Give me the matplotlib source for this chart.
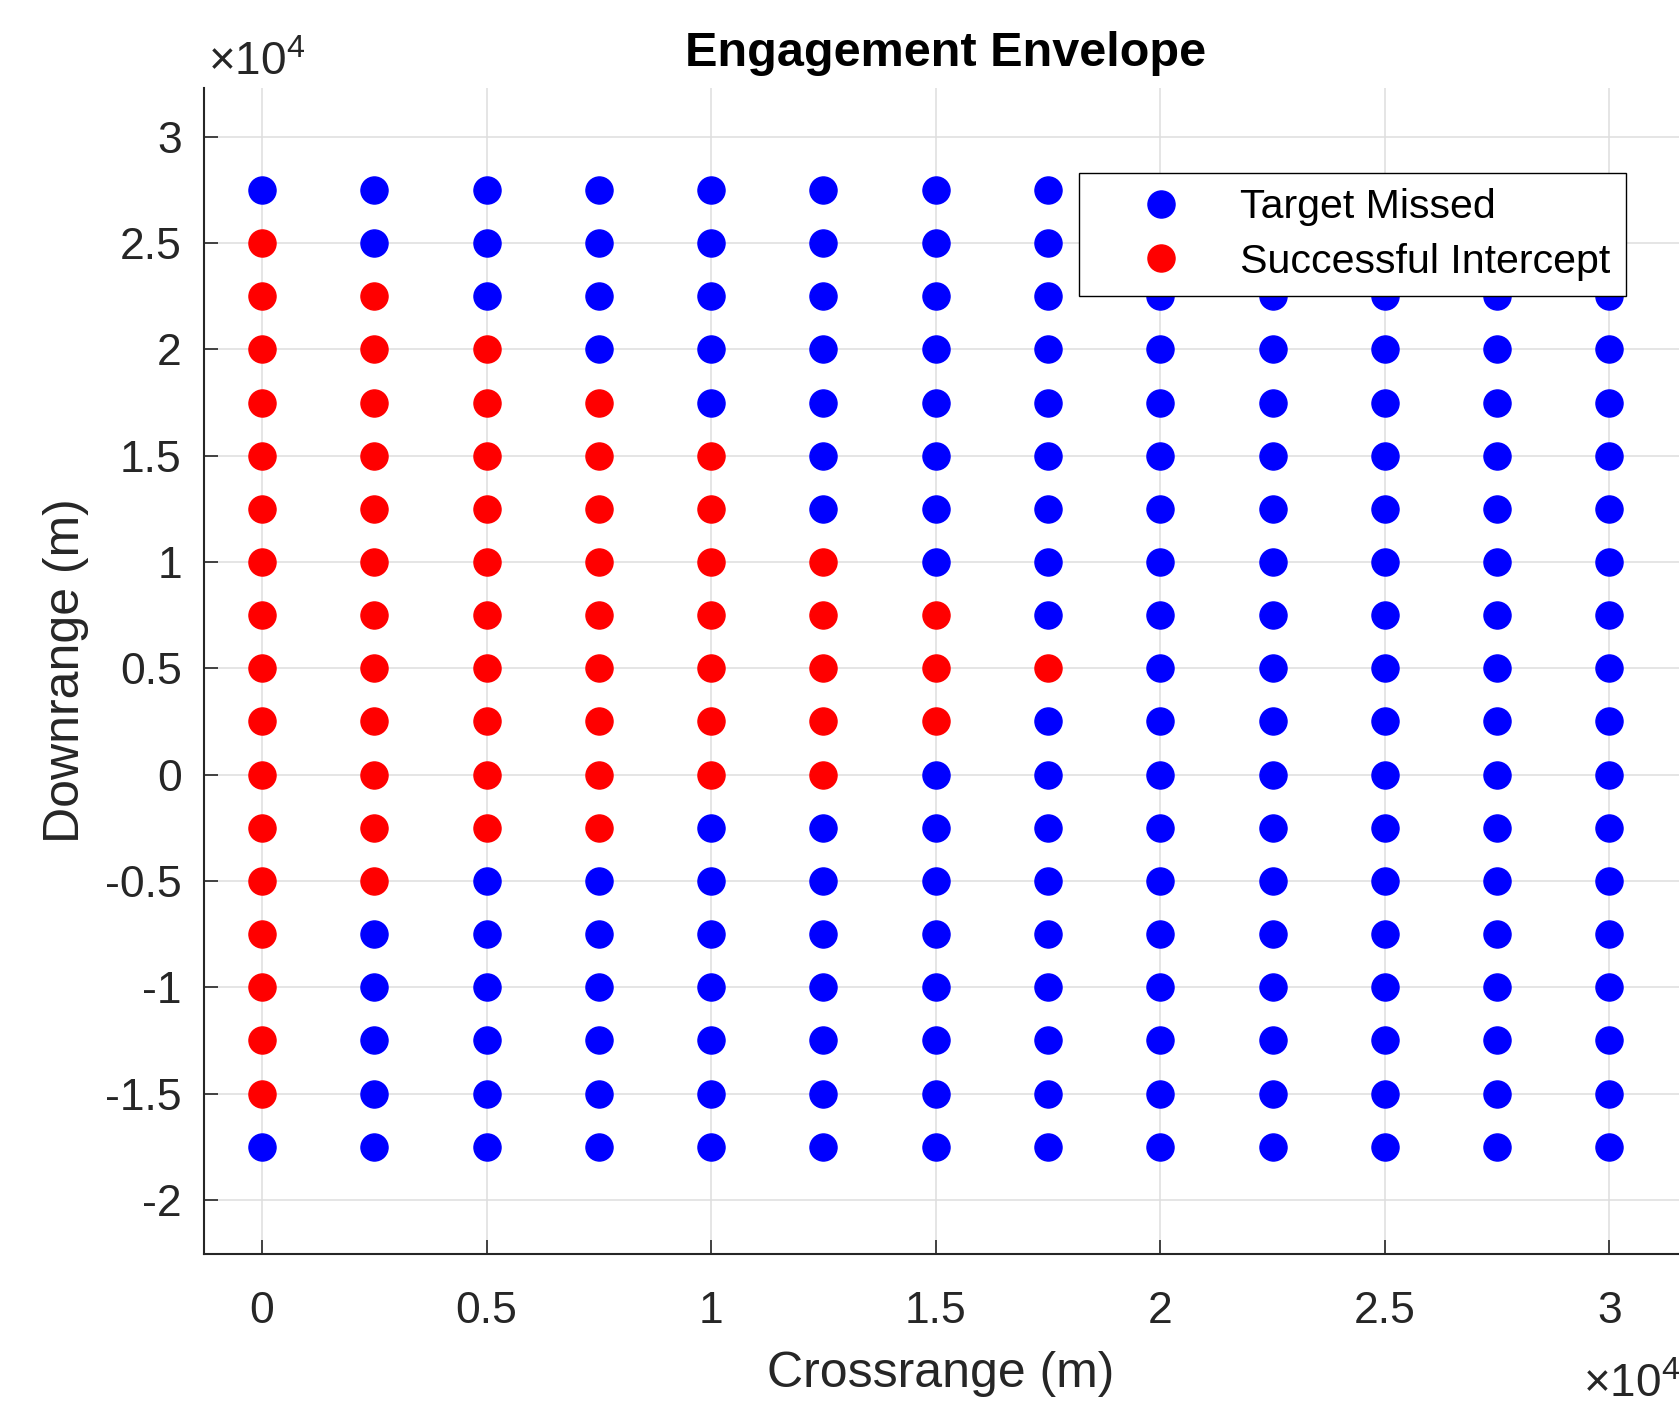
import matplotlib
matplotlib.use("Agg")
import matplotlib.pyplot as plt
from matplotlib.ticker import FuncFormatter

plt.rcParams['font.family'] = ['Liberation Sans', 'DejaVu Sans']
plt.rcParams['mathtext.fontset'] = 'custom'
plt.rcParams['mathtext.rm'] = 'Liberation Sans'

# Launch grid (m)
crossrange_m = [0, 2500, 5000, 7500, 10000, 12500, 15000, 17500,
                20000, 22500, 25000, 27500, 30000]
downrange_m = [-17500, -15000, -12500, -10000, -7500, -5000, -2500, 0,
               2500, 5000, 7500, 10000, 12500, 15000, 17500, 20000,
               22500, 25000, 27500]

# downrange span of successful intercepts for each crossrange column (None = all missed)
intercept_low = [-15000, -5000, -2500, -2500, 0, 0, 2500, 5000,
                 None, None, None, None, None]
intercept_high = [25000, 22500, 20000, 17500, 15000, 10000, 7500, 5000,
                  None, None, None, None, None]

miss_x, miss_y, hit_x, hit_y = [], [], [], []
for cx, lo, hi in zip(crossrange_m, intercept_low, intercept_high):
    for dy in downrange_m:
        if lo is not None and lo <= dy <= hi:
            hit_x.append(cx)
            hit_y.append(dy)
        else:
            miss_x.append(cx)
            miss_y.append(dy)

W, H = 1679, 1403
fig = plt.figure(figsize=(W / 100, H / 100), dpi=100)
# axes runs past the right edge of the picture, as in the cropped screenshot
ax = fig.add_axes([204 / W, 1 - 1254 / H, (1688 - 204) / W, (1254 - 88) / H])

ax.plot(miss_x, miss_y, 'o', color='#0000ff', markersize=19.5, linestyle='none',
        label='Target Missed')
ax.plot(hit_x, hit_y, 'o', color='#ff0000', markersize=19.5, linestyle='none',
        label='Successful Intercept')

ax.set_xlim(-1290, 31750)
ax.set_ylim(-22550, 32300)
ax.set_xticks([0, 5000, 10000, 15000, 20000, 25000, 30000])
ax.set_yticks([-20000, -15000, -10000, -5000, 0, 5000, 10000, 15000, 20000, 25000, 30000])
fmt = FuncFormatter(lambda v, p: '%g' % (v / 1e4))
ax.xaxis.set_major_formatter(fmt)
ax.yaxis.set_major_formatter(fmt)

ax.grid(True, color='#dedede', linewidth=1.1)
ax.set_axisbelow(True)
for s in ['top', 'right']:
    ax.spines[s].set_visible(False)
for s in ['left', 'bottom']:
    ax.spines[s].set_color('#262626')
    ax.spines[s].set_linewidth(1.5)
ax.tick_params(direction='in', length=10, width=1.2, colors='#262626', labelsize=32)
ax.tick_params(axis='y', pad=16)
ax.tick_params(axis='x', pad=26.7)

ax.set_xlabel('Crossrange (m)', fontsize=36, color='#262626')
ax.set_ylabel('Downrange (m)', fontsize=36, color='#262626')
ax.xaxis.set_label_coords(0.4963, -0.0832)
ax.yaxis.set_label_coords(-0.0776, 0.5)

fig.text(946 / W, 1 - 66 / H, 'Engagement Envelope', ha='center', va='baseline',
         fontsize=35, fontweight='bold')

# exponent labels, MATLAB style (the x one is clipped by the right edge, as in the screenshot)
fig.text(208 / W, 1 - 75 / H, r'$\mathregular{\times 10^{4}}$', ha='left', va='baseline',
         fontsize=33, color='#262626')
fig.text(1583 / W, 1 - 1397 / H, r'$\mathregular{\times 10^{4}}$', ha='left', va='baseline',
         fontsize=33, color='#262626')

leg = ax.legend(loc='upper left', bbox_to_anchor=(1079 / W, 1 - 173 / H),
                bbox_transform=fig.transFigure, borderaxespad=0, fontsize=29.6,
                fancybox=False, framealpha=1, edgecolor='black', markerscale=1.0,
                handlelength=3.25, handletextpad=0.3, borderpad=0.37, labelspacing=0.4)
leg.get_frame().set_linewidth(1.0)

fig.savefig('out.png', dpi=100)
